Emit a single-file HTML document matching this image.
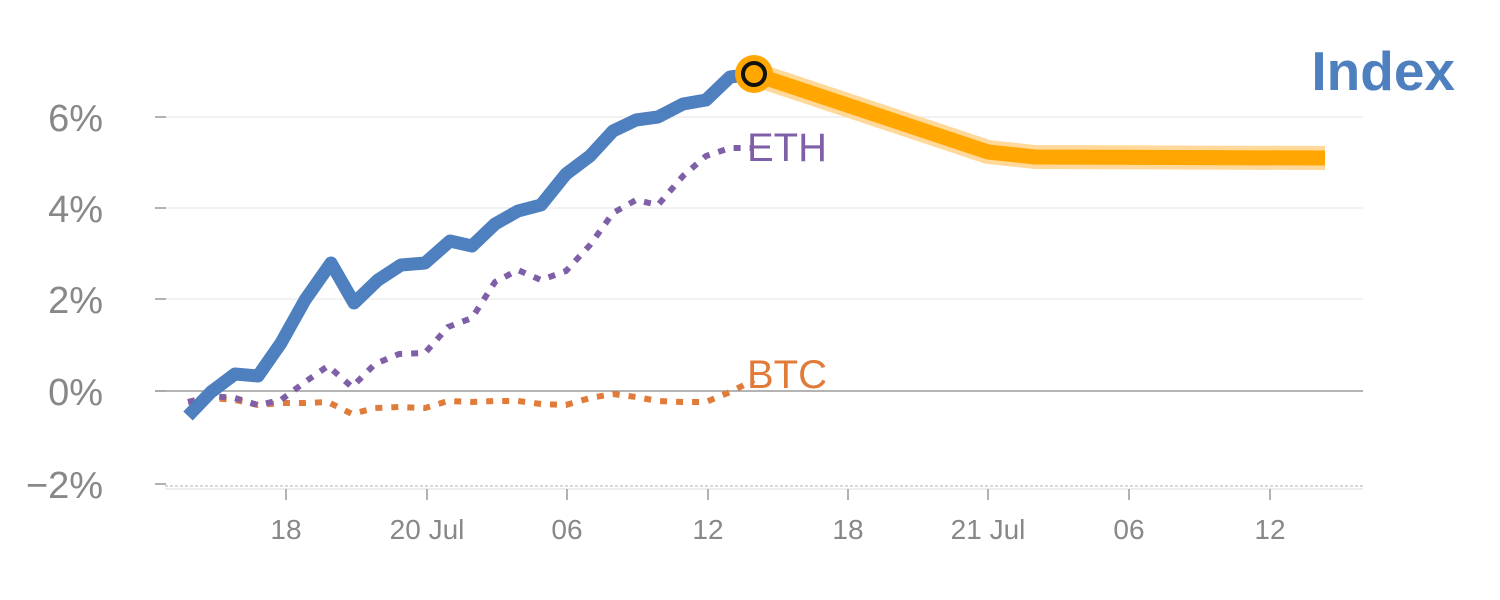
<!DOCTYPE html>
<html><head><meta charset="utf-8"><style>
html,body{margin:0;padding:0;background:#fff;}
svg{display:block;font-family:"Liberation Sans",Arial,sans-serif;}
</style></head><body>
<svg width="1500" height="600" viewBox="0 0 1500 600">
<g stroke="#e6e6e6" stroke-width="1">
<line x1="155" y1="117" x2="1363" y2="117"/>
<line x1="155" y1="208" x2="1363" y2="208"/>
<line x1="155" y1="299" x2="1363" y2="299"/>
</g>
<line x1="155" y1="391" x2="1363" y2="391" stroke="#888" stroke-width="1.2"/>
<line x1="165" y1="486" x2="1363" y2="486" stroke="#ccc" stroke-width="1.5" stroke-dasharray="3,2"/>
<line x1="165" y1="489" x2="1363" y2="489" stroke="#ddd" stroke-width="1"/>
<g stroke="#999" stroke-width="1.5">
<line x1="155" y1="117" x2="166" y2="117"/><line x1="155" y1="208" x2="166" y2="208"/>
<line x1="155" y1="299" x2="166" y2="299"/><line x1="155" y1="391" x2="166" y2="391"/>
<line x1="155" y1="484" x2="166" y2="484"/>
<line x1="286" y1="489" x2="286" y2="500"/><line x1="427" y1="489" x2="427" y2="500"/>
<line x1="567" y1="489" x2="567" y2="500"/><line x1="708" y1="489" x2="708" y2="500"/>
<line x1="848" y1="489" x2="848" y2="500"/><line x1="988" y1="489" x2="988" y2="500"/>
<line x1="1129" y1="489" x2="1129" y2="500"/><line x1="1270" y1="489" x2="1270" y2="500"/>
</g>
<g fill="#888" font-size="38" text-anchor="end">
<text x="103" y="131">6%</text><text x="103" y="222">4%</text>
<text x="103" y="313">2%</text><text x="103" y="405">0%</text>
<text x="103" y="498">−2%</text>
</g>
<g fill="#888" font-size="28" text-anchor="middle">
<text x="286" y="539">18</text><text x="427" y="539">20 Jul</text>
<text x="567" y="539">06</text><text x="708" y="539">12</text>
<text x="848" y="539">18</text><text x="988" y="539">21 Jul</text>
<text x="1129" y="539">06</text><text x="1270" y="539">12</text>
</g>
<polyline fill="none" stroke="#e07b39" stroke-width="6" stroke-dasharray="7,9" points="188,402 211,398 235,400 258,405 281,403 305,403 328,402 352,414 375,408 399,407 425,408 448,401 472,402 495,401 518,401 541,404 566,405 590,398 613,394 636,397 658,401 683,402 706,402 730,392 754,380"/>
<polyline fill="none" stroke="#7f5fa8" stroke-width="6" stroke-dasharray="7,9" points="188,402 211,396 235,398 258,405 281,400 305,382 328,366 352,387 375,364 399,354 425,353 448,327 472,318 495,282 518,270 541,280 566,271 590,245 613,213 636,200 658,205 683,176 706,156 730,148 754,148"/>
<polyline fill="none" stroke="#4e7fbf" stroke-width="13" stroke-linejoin="round" points="188,416 211,392 235,374 258,376 281,343 305,300 331,263 354,303 378,280 401,265 425,263 450,241 472,246 495,224 518,211 541,205 566,174 590,156 613,131 636,120 658,117 683,104 706,100 730,77 754,74"/>
<polyline fill="none" stroke="#ffd89a" stroke-width="24" stroke-linejoin="round" points="754,74 988,152 1035,157 1325,158"/>
<polyline fill="none" stroke="#ffa600" stroke-width="15" stroke-linejoin="round" points="754,74 988,152 1035,157 1325,158"/>
<circle cx="754" cy="74" r="19" fill="#ffa600"/>
<circle cx="754" cy="74" r="11" fill="none" stroke="#111" stroke-width="4"/>
<text x="747" y="161" font-size="40" fill="#7f5fa8">ETH</text>
<text x="747" y="388" font-size="40" fill="#e07b39">BTC</text>
<text x="1455" y="90" font-size="55" font-weight="bold" fill="#4e7fbf" text-anchor="end">Index</text>
</svg>
</body></html>
